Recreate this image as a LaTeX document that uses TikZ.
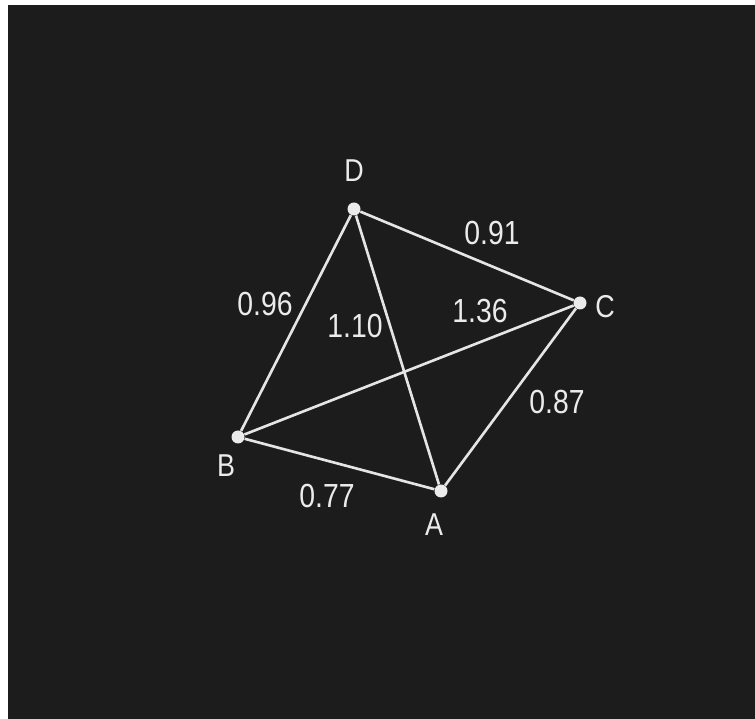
\documentclass[tikz,border=0pt]{standalone}
\usepackage{fontspec}
\setmainfont{Liberation Sans}
\newfontfamily\narrowfont[FakeStretch=0.85]{Liberation Sans}
\usetikzlibrary{positioning}

\begin{document}
\begin{tikzpicture}[
  x=0.02cm, y=-0.02cm,
  vtx/.style={circle, fill=white!92!black, inner sep=0pt, minimum size=13*0.02cm},
  vname/.style={text=white!92!black, font=\narrowfont\fontsize{18}{18}\selectfont},
  dist/.style={text=white!92!black, font=\narrowfont\fontsize{19}{19}\selectfont},
  edge/.style={draw=white!90!black, line width=1.5pt}
]
\useasboundingbox (0,0) rectangle (755,719);
\fill[white] (0,0) rectangle (755,719);
\fill[black!89] (8,5) rectangle (755,719);

\node[vtx] (D) at (354,209) {};
\node[vtx] (C) at (580,303) {};
\node[vtx] (B) at (238,437) {};
\node[vtx] (A) at (441,491) {};

\node[vname] (lD) at (354,171) {D};
\node[vname] (lC) at (605,307) {C};
\node[vname] (lB) at (226,466) {B};
\node[vname] (lA) at (434,525) {A};

\draw[edge] (D) -- (C);
\draw[edge] (D) -- (B);
\draw[edge] (D) -- (A);
\draw[edge] (B) -- (C);
\draw[edge] (C) -- (A);
\draw[edge] (B) -- (A);

\node[dist] (dDC) at (492,233) {0.91};
\node[dist] (dDB) at (265,304) {0.96};
\node[dist] (dDA) at (355,326) {1.10};
\node[dist] (dBC) at (480,311) {1.36};
\node[dist] (dCA) at (557,402) {0.87};
\node[dist] (dBA) at (327,496) {0.77};
\end{tikzpicture}
\end{document}
